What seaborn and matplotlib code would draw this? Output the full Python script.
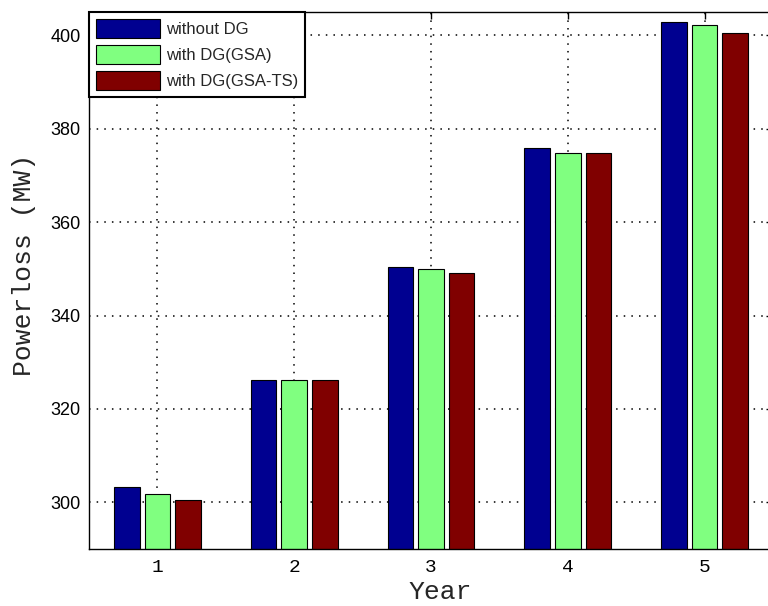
import matplotlib
matplotlib.use("Agg")
import matplotlib.pyplot as plt
import seaborn as sns
import pandas as pd

# ---- data ----
years = ["1", "2", "3", "4", "5"]
series_names = ["without DG", "with DG(GSA)", "with DG(GSA-TS)"]
without_dg = [303.2, 326.2, 350.3, 375.8, 402.8]
with_dg_gsa = [301.8, 326.2, 350.0, 374.9, 402.3]
with_dg_gsa_ts = [300.4, 326.2, 349.0, 374.9, 400.5]
y_ticks = [300, 320, 340, 360, 380, 400]
colors = ["#000090", "#80FF80", "#800000"]

df = pd.DataFrame({
    "Year": years * 3,
    "Series": [s for s in series_names for _ in years],
    "Powerloss": without_dg + with_dg_gsa + with_dg_gsa_ts,
})

sns.set_style("white")
plt.rcParams["font.family"] = ["Liberation Sans", "DejaVu Sans"]

fig = plt.figure(figsize=(7.68, 6.06), dpi=100)
ax = fig.add_axes([89 / 768, 1 - 549 / 606, 684 / 768, 537 / 606])

sns.barplot(data=df, x="Year", y="Powerloss", hue="Series", order=years,
            hue_order=series_names, palette=colors, saturation=1,
            width=0.67, gap=0.16, edgecolor="black", linewidth=0.8,
            errorbar=None, ax=ax)

ax.set_xlim(-0.5, 4.5)
ax.set_ylim(290, 405)
ax.set_yticks(y_ticks)
ax.set_yticklabels([str(v) for v in y_ticks], fontsize=13, family="Liberation Sans")
ax.set_xticks(range(len(years)))
ax.set_xticklabels(years, fontsize=14, family="Liberation Mono")

ax.set_axisbelow(True)
ax.grid(True, color="black", linestyle=(0, (1, 4)), linewidth=1.1)

for sp in ax.spines.values():
    sp.set_visible(True)
    sp.set_color("black")
    sp.set_linewidth(1.0)
ax.tick_params(direction="in", length=5, width=1, top=True, right=True,
               colors="black")
ax.tick_params(axis="y", pad=6)
ax.tick_params(axis="x", pad=7)

ax.set_xlabel("Year", fontsize=19, family="Liberation Mono")
ax.set_ylabel("Powerloss (MW)", fontsize=19, family="Liberation Mono")
ax.xaxis.set_label_coords(0.513, -0.058)
ax.yaxis.set_label_coords(-0.078, 0.53)

leg = ax.legend(loc="upper left", bbox_to_anchor=(0, 1), borderaxespad=0,
                fancybox=False, framealpha=1, edgecolor="black",
                prop={"family": "Liberation Sans", "size": 12},
                handlelength=3.83, handleheight=1.38, labelspacing=0.42,
                handletextpad=0.35, borderpad=0.42, title=None)
leg.get_frame().set_linewidth(1.5)

fig.savefig("out.png", dpi=100)
